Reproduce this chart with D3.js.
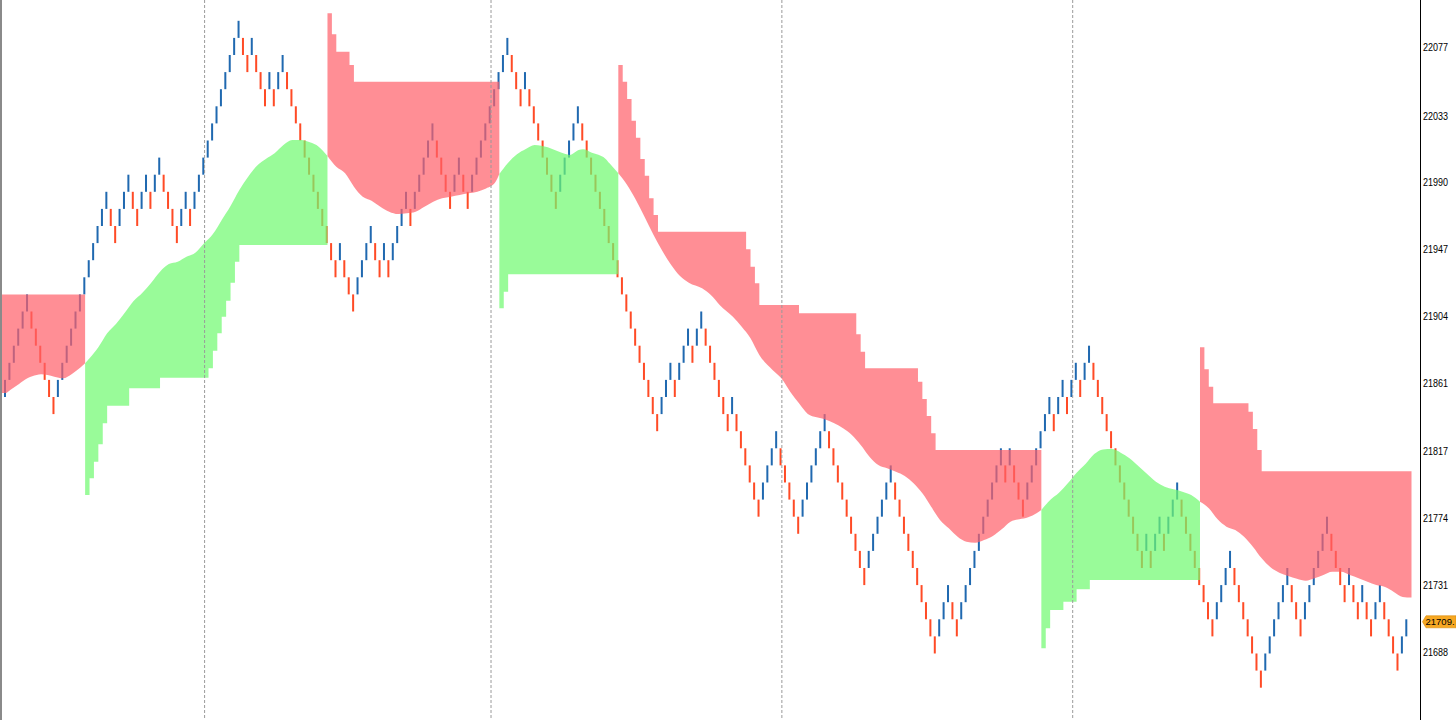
<!DOCTYPE html>
<html><head><meta charset="utf-8">
<script src="https://cdn.jsdelivr.net/npm/d3@7"></script>
<style>html,body{margin:0;padding:0;background:#fff;overflow:hidden}</style>
</head><body>
<svg id="chart" width="1456" height="720"></svg>
<script>
// ---- DATA ----
const BRICK = 11;
// close price of every renko brick (left to right)
const closes = [
21863,21874,21885,21896,21907,21918,21896,21885,21874,21863,21852,21841,21863,21874,21885,21896,21907,21918,21929,21940,
21951,21962,21973,21984,21962,21951,21973,21984,21995,21973,21962,21984,21995,21973,21995,22006,21984,21973,21962,21951,
21973,21984,21962,21984,21995,22006,22017,22028,22039,22050,22061,22072,22083,22094,22072,22061,22083,22061,22050,22039,
22061,22039,22061,22072,22050,22039,22028,22017,22006,21995,21984,21973,21962,21951,21940,21929,21951,21929,21918,21907,
21929,21940,21951,21962,21940,21929,21951,21929,21951,21962,21973,21984,21962,21984,21995,22006,22017,22028,22006,21995,
21984,21973,21995,22006,21984,21973,21995,22006,22017,22028,22039,22050,22061,22072,22083,22061,22050,22039,22061,22039,
22028,22017,22006,21995,21984,21973,21995,22006,22017,22028,22039,22017,22006,21995,21984,21973,21962,21951,21940,21929,
21918,21907,21896,21885,21874,21863,21852,21841,21830,21852,21863,21874,21852,21874,21885,21896,21874,21896,21907,21885,
21874,21863,21852,21841,21830,21852,21830,21819,21808,21797,21786,21775,21797,21808,21819,21830,21808,21797,21786,21775,
21764,21786,21797,21808,21819,21830,21841,21819,21808,21797,21786,21775,21764,21753,21742,21731,21753,21764,21775,21786,
21797,21808,21786,21775,21764,21753,21742,21731,21720,21709,21698,21687,21709,21720,21731,21709,21698,21720,21731,21742,
21753,21764,21775,21786,21797,21808,21819,21797,21819,21797,21786,21775,21797,21808,21819,21830,21841,21852,21830,21852,
21863,21841,21863,21874,21852,21874,21885,21863,21852,21841,21830,21819,21808,21797,21786,21775,21764,21753,21742,21764,
21742,21764,21775,21753,21775,21786,21797,21775,21764,21753,21742,21731,21720,21709,21698,21720,21731,21742,21753,21731,
21720,21709,21698,21687,21676,21665,21687,21698,21709,21720,21731,21742,21720,21709,21698,21720,21731,21742,21753,21764,
21775,21753,21742,21731,21720,21742,21720,21709,21731,21709,21698,21720,21731,21709,21698,21687,21676,21698,21709
];
const firstBrickUp = true;

// smooth average line (brick index, price)
const maPoints = [
[0,21854.6],[1,21856.5],[3,21860.4],[5,21864.2],[7,21866.1],[8,21866.6],[11,21865.1],[13,21864.0],[15,21866.8],[17,21871.1],[18,21873.7],
[19,21876.9],[21,21884.0],[23,21893.0],[25,21899.0],[27,21906.2],[29,21913.7],[31,21919.1],[33,21925.5],[35,21932.6],[37,21937.5],
[39,21939.0],[41,21942.2],[43,21944.8],[45,21950.9],[47,21956.8],[49,21965.9],[51,21974.9],[53,21985.2],[55,21993.7],[57,22000.8],
[59,22005.1],[61,22008.8],[63,22014.1],[65,22017.3],[67,22017.3],[69,22015.8],[71,22013.0],[73,22007.0],
[75,22000.1],[77,21995.9],[79,21987.3],[81,21980.8],[83,21978.3],[85,21974.4],[87,21971.2],[89,21969.7],[91,21970.2],[93,21971.2],
[95,21974.4],[97,21977.6],[99,21979.8],[101,21980.8],[103,21981.9],[105,21983.0],[107,21984.1],[109,21986.2],[111,21989.8],
[112,21995.4],[114,22002.7],[116,22008.1],[118,22011.5],[120,22014.1],[123,22012.6],[125,22010.4],[127,22008.3],[128,22007.7],
[130,22010.9],[131,22011.3],[133,22009.1],[136,22005.5],[137,22002.3],[138,21999.1],
[139,21995.9],[141,21988.4],[143,21978.7],[145,21967.6],[147,21956.2],[149,21945.9],[151,21936.9],[153,21929.8],[155,21925.5],
[158,21921.9],[160,21917.6],[162,21911.2],[165,21903.6],[167,21897.2],[169,21889.8],[171,21879.0],[174,21869.4],[176,21864.0],
[178,21855.4],[180,21847.9],[182,21841.1],[184,21838.9],[186,21837.6],[188,21835.1],[190,21831.9],[192,21827.5],[194,21821.1],
[196,21813.6],[198,21808.2],[200,21806.1],[202,21803.9],[204,21801.2],[206,21796.5],[208,21790.0],[210,21781.4],[212,21772.9],
[214,21767.5],[216,21762.1],[218,21758.9],[220,21758.3],[222,21760.0],[224,21762.6],[226,21766.9],[228,21771.8],[230,21773.3],
[232,21774.6],[234,21777.4],
[235,21779.3],[237,21785.7],[239,21790.4],[241,21796.5],[243,21803.3],[245,21808.9],[247,21815.3],[249,21818.3],[251,21818.5],
[253,21816.2],[255,21812.6],[257,21807.6],[259,21802.5],[261,21797.5],[263,21794.3],[265,21792.6],[267,21791.1],[269,21788.9],
[271,21784.6],[273,21780.4],[275,21773.3],[277,21768.6],[279,21766.4],[281,21762.1],[283,21755.7],[285,21748.2],[287,21742.4],
[289,21739.0],[291,21736.8],[293,21735.1],[295,21733.8],[297,21735.4],[299,21737.5],[301,21739.6],[303,21739.6],[305,21737.5],
[307,21735.4],[309,21733.2],[311,21731.0],[313,21729.8],[315,21726.6],[316,21724.6],[317,21723.3],[318,21723.0]
];

// trailing stop level: [from brick index, price]
const stopSteps = [
[-1,21918.0],
[18,21788.9],[19,21799.7],[20,21810.4],[21,21821.6],[22,21835.1],[23,21846.4],[28,21857.6],[35,21864.4],[46,21870.5],
[47,21881.8],[48,21893.0],[49,21903.6],[50,21913.9],[51,21925.5],[52,21939.0],[53,21949.8],
[73,22098.8],[74,22085.3],[75,22074.1],[78,22065.6],[79,22054.8],
[112,21909.1],[113,21919.7],[114,21930.9],
[139,22065.6],[140,22054.8],[141,22043.7],[142,22029.7],[143,22018.8],[144,22005.1],[145,21994.4],[146,21979.8],[147,21969.1],
[148,21958.3],[168,21947.0],[169,21935.8],[170,21925.1],[171,21911.2],[180,21905.8],[193,21892.3],[194,21881.1],[195,21870.5],
[207,21861.8],[208,21850.7],[209,21839.8],[210,21828.6],[211,21817.9],
[235,21690.3],[236,21703.2],[237,21715.0],[240,21720.3],[243,21728.3],[246,21734.3],
[271,21884.0],[272,21869.8],[273,21858.6],[274,21847.9],[282,21842.5],[283,21831.4],[284,21817.9],[285,21804.2]
];

// band ranges: [start brick, end brick (exclusive), trend]
const bandRanges = [[-1,18,"down"],[18,73,"up"],[73,112,"down"],[112,139,"up"],[139,235,"down"],[235,271,"up"],[271,319,"down"]];

const tickLabels = [22077,22033,21990,21947,21904,21861,21817,21774,21731,21688];
const separatorBricks = [45,110,176,242];
const lastPriceText = "21709.";

// ---- DRAW ----
const svg = d3.select("#chart");
const W = 1456, H = 720, axisX = 1420.5;

const x = d3.scaleLinear().domain([0, closes.length - 1]).range([5, 5 + (closes.length - 1) * 4.4066]);
const y = d3.scaleLinear().domain([21650, 22110]).range([711.0, -4.07]);

svg.append("rect").attr("width", W).attr("height", H).attr("fill", "#fff");

svg.append("defs").append("clipPath").attr("id", "plot")
  .append("rect").attr("x", 2).attr("y", 0).attr("width", axisX - 2).attr("height", H);

const plot = svg.append("g").attr("clip-path", "url(#plot)");

// bricks
const bricks = closes.map((c, i) => {
  const up = i === 0 ? firstBrickUp : c > closes[i - 1];
  const o = up ? c - BRICK : c + BRICK;
  return { i, o, c, up };
});
plot.append("g").selectAll("rect").data(bricks).join("rect")
  .attr("x", d => x(d.i) - 1)
  .attr("width", 2)
  .attr("y", d => y(Math.max(d.o, d.c)))
  .attr("height", d => Math.abs(y(d.o) - y(d.c)))
  .attr("fill", d => d.up ? "#2069b0" : "#ff4b26");

// bands
const monoLine = d3.line().x(d => x(d[0]) + 0.8).y(d => y(d[1])).curve(d3.curveMonotoneX);
bandRanges.forEach(([s, e, trend]) => {
  let ma = maPoints.filter(p => p[0] >= s && p[0] <= e);
  if (ma[0][0] > s) ma = [[s, ma[0][1]], ...ma];
  if (ma[ma.length - 1][0] < e) ma = [...ma, [e, ma[ma.length - 1][1]]];
  const steps = stopSteps.filter(p => p[0] >= s && p[0] < e);
  const corners = [];
  steps.forEach((st, k) => {
    const to = k < steps.length - 1 ? steps[k + 1][0] : e;
    corners.push([st[0], st[1]], [to, st[1]]);
  });
  const back = corners.reverse().map(p => (x(p[0]) + 0.8).toFixed(2) + "," + y(p[1]).toFixed(2)).join("L");
  const d = monoLine(ma) + "L" + back + "Z";
  plot.append("path").attr("d", d)
    .attr("fill", trend === "down" ? "rgb(255,96,105)" : "rgb(112,250,112)")
    .attr("fill-opacity", 0.71);
});

// period separators
svg.append("g").selectAll("line").data(separatorBricks).join("line")
  .attr("x1", d => x(d) + 1.3).attr("x2", d => x(d) + 1.3)
  .attr("y1", 0).attr("y2", H)
  .attr("stroke", "#9a9a9a").attr("stroke-width", 1).attr("stroke-dasharray", "3,2");

// frame
svg.append("line").attr("x1", 1).attr("x2", 1).attr("y1", 0).attr("y2", H)
  .attr("stroke", "#8a8a8a").attr("stroke-width", 2);
svg.append("line").attr("x1", axisX).attr("x2", axisX).attr("y1", 0).attr("y2", H)
  .attr("stroke", "#000").attr("stroke-width", 1);

// price axis labels
svg.append("g").selectAll("text").data(tickLabels).join("text")
  .attr("x", 1423).attr("y", d => y(d) + 4)
  .attr("font-family", "Liberation Sans, Arial, sans-serif")
  .attr("font-size", 11)
  .attr("textLength", 25).attr("lengthAdjust", "spacingAndGlyphs")
  .attr("fill", "#000")
  .text(d => d);

// last price tag
const lp = closes[closes.length - 1];
const ly = y(lp) + 2.5;
svg.append("path")
  .attr("d", `M1422.5,${ly} L1426,${ly - 6} L1456,${ly - 6} L1456,${ly + 6} L1426,${ly + 6} Z`)
  .attr("fill", "#f7a823").attr("stroke", "#d98c0a").attr("stroke-width", 0.6);
svg.append("text").attr("x", 1425.5).attr("y", ly + 3.5)
  .attr("font-family", "Liberation Sans, Arial, sans-serif")
  .attr("font-size", 9.5)
  .attr("fill", "#000")
  .text(lastPriceText);
</script>
</body></html>
